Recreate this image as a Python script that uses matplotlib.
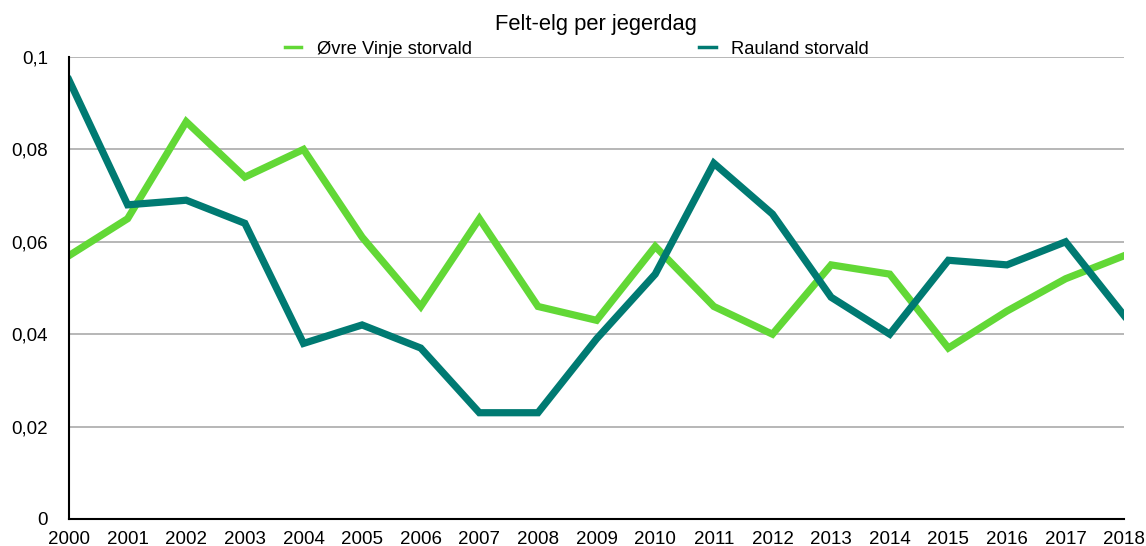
import matplotlib
matplotlib.use("Agg")
import matplotlib.pyplot as plt
from matplotlib.ticker import FuncFormatter

years = list(range(2000, 2019))
ovre_vinje = [0.057, 0.065, 0.086, 0.074, 0.080, 0.061, 0.046, 0.065, 0.046, 0.043,
              0.059, 0.046, 0.040, 0.055, 0.053, 0.037, 0.045, 0.052, 0.057]
rauland = [0.095, 0.068, 0.069, 0.064, 0.038, 0.042, 0.037, 0.023, 0.023, 0.039,
           0.053, 0.077, 0.066, 0.048, 0.040, 0.056, 0.055, 0.060, 0.044]
series_names = ["Øvre Vinje storvald", "Rauland storvald"]
title = "Felt-elg per jegerdag"

plt.rcParams['font.family'] = ['Liberation Sans', 'DejaVu Sans']

fig = plt.figure(figsize=(11.46, 5.46), dpi=100)
ax = fig.add_axes([0.0602, 0.0495, 0.9208, 0.8461])

ax.plot(years, ovre_vinje, color="#62D836", lw=5.2, label=series_names[0],
        solid_joinstyle="miter", zorder=3)
ax.plot(years, rauland, color="#007A72", lw=5.2, label=series_names[1],
        solid_joinstyle="miter", zorder=3)

ax.set_xlim(2000, 2018)
ax.set_ylim(0, 0.1)
ax.set_xticks(years)
ax.set_yticks([0, 0.02, 0.04, 0.06, 0.08, 0.1])
ax.yaxis.set_major_formatter(FuncFormatter(lambda v, p: "0" if v == 0 else ("%g" % round(v, 3)).replace(".", ",")))
ax.grid(axis="y", color="#AAAAAA", lw=1.2, zorder=1)
ax.tick_params(axis="both", length=0, labelsize=13.5, colors="black")
ax.tick_params(axis="x", pad=8.5)
ax.tick_params(axis="y", pad=15)
for s in ["top", "right"]:
    ax.spines[s].set_visible(False)
for s in ["left", "bottom"]:
    ax.spines[s].set_linewidth(1.5)
    ax.spines[s].set_color("black")
    ax.spines[s].set_zorder(4)

fig.text(0.520, 0.956, title, ha="center", va="center", fontsize=15.8)
leg = fig.legend(loc="center", bbox_to_anchor=(0.5035, 0.910), ncol=2, frameon=False,
                 fontsize=13.2, handlelength=0.9, handletextpad=0.85, columnspacing=12.4,
                 borderaxespad=0, borderpad=0)
for h in leg.get_lines():
    h.set_linewidth(2.5)

fig.savefig("out.png", dpi=100)
